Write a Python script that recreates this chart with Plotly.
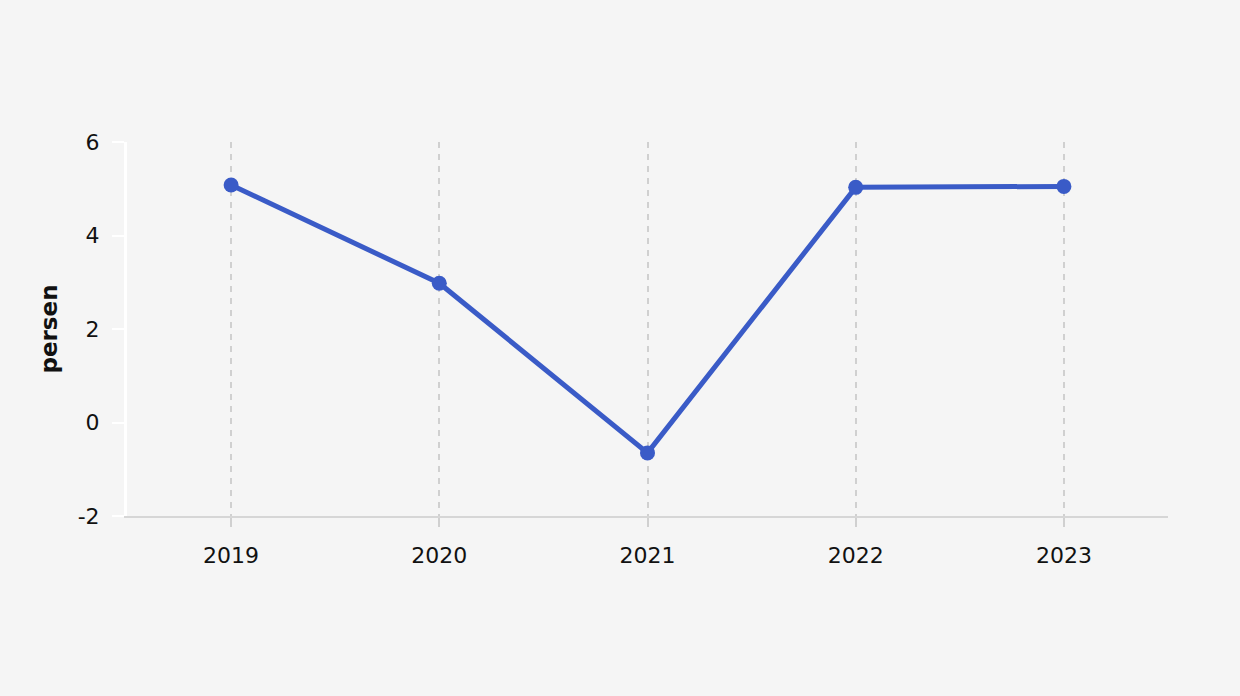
import plotly.graph_objects as go

# data
years = ["2019", "2020", "2021", "2022", "2023"]
growth = [5.08, 2.98, -0.65, 5.03, 5.05]
y_ticks = [-2, 0, 2, 4, 6]
y_labels = ["-2", "0", "2", "4", "6"]

fig = go.Figure()

fig.add_trace(go.Scatter(
    x=years,
    y=growth,
    mode="lines+markers",
    line=dict(color="#3a5bc7", width=5),
    marker=dict(color="#3a5bc7", size=15),
    showlegend=False,
))

fig.update_layout(
    width=1240,
    height=696,
    paper_bgcolor="#f5f5f5",
    plot_bgcolor="#f5f5f5",
    margin=dict(l=127, r=72, t=142, b=180),
    font=dict(family="DejaVu Sans, Verdana, sans-serif", size=22, color="#111111"),
    xaxis=dict(
        type="category",
        range=[-0.5, 4.5],
        showgrid=True,
        gridcolor="#d0d0d0",
        griddash="6px,6px",
        gridwidth=2,
        showline=True,
        linecolor="#d6d6d6",
        linewidth=2,
        ticks="outside",
        ticklen=9,
        tickcolor="#d0d0d0",
        tickwidth=2,
        ticklabelstandoff=10,
        zeroline=False,
    ),
    yaxis=dict(
        range=[-2, 6],
        tickvals=y_ticks,
        ticktext=y_labels,
        showgrid=False,
        zeroline=False,
        showline=True,
        linecolor="#ffffff",
        linewidth=3,
        ticks="outside",
        ticklen=12,
        tickcolor="#ffffff",
        tickwidth=2,
        ticklabelstandoff=8,
        title=dict(text="<b>persen</b>", standoff=14, font=dict(size=23)),
    ),
)

fig.write_html(
    "out.html",
    config={"displayModeBar": False},
    post_script="document.body.style.margin='0';",
)
